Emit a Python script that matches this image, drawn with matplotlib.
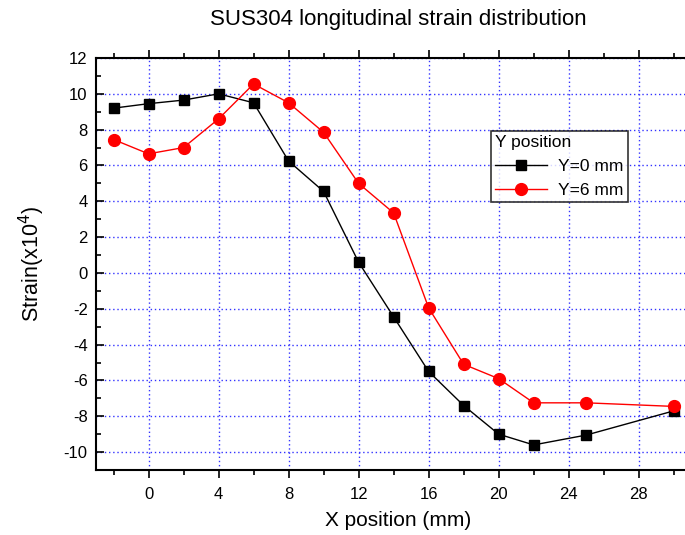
import matplotlib
matplotlib.use("Agg")
import matplotlib.pyplot as plt
from matplotlib.ticker import MultipleLocator

x_pos = [-2, 0, 2, 4, 6, 8, 10, 12, 14, 16, 18, 20, 22, 25, 30]
strain_y0 = [9.2, 9.45, 9.65, 10.0, 9.5, 6.25, 4.55, 0.6, -2.45, -5.5, -7.4, -9.0, -9.6, -9.05, -7.7]
strain_y6 = [7.45, 6.65, 7.0, 8.6, 10.55, 9.5, 7.85, 5.0, 3.35, -1.95, -5.1, -5.9, -7.25, -7.25, -7.45]

plt.rcParams['font.family'] = ['Liberation Sans', 'DejaVu Sans']
plt.rcParams['axes.unicode_minus'] = False

fig = plt.figure(figsize=(6.85, 5.35), dpi=100)
ax = fig.add_axes([96/685, 65/535, (700-96)/685, (470-58)/535])

ax.plot(x_pos, strain_y0, color='black', lw=1, marker='s', ms=7, mfc='black', mec='black', label='Y=0 mm')
ax.plot(x_pos, strain_y6, color='red', lw=1, marker='o', ms=8.5, mfc='red', mec='red', label='Y=6 mm')

ax.set_xlim(-3, 31.5)
ax.set_ylim(-11, 12)
ax.xaxis.set_major_locator(MultipleLocator(4))
ax.xaxis.set_minor_locator(MultipleLocator(2))
ax.yaxis.set_major_locator(MultipleLocator(2))
ax.yaxis.set_minor_locator(MultipleLocator(1))
ax.grid(True, which='major', color='#3333ff', linestyle=(0, (1, 2)), lw=1)
ax.tick_params(which='both', direction='out', labelsize=12, width=1.2)
ax.tick_params(which='major', length=6, pad=6)
ax.tick_params(which='minor', length=3.5)
ax.tick_params(top=True, which='both', direction='in')
ax.tick_params(axis='x', which='both', bottom=True, direction='out')
for s in ax.spines.values():
    s.set_linewidth(1.5)

ax.set_xlabel('X position (mm)', fontsize=15, labelpad=7)
ax.set_ylabel('Strain(x10$^4$)', fontsize=15.5, labelpad=12)
ax.set_title('SUS304 longitudinal strain distribution', fontsize=16, pad=24)

leg = ax.legend(title='Y position', loc='upper left', bbox_to_anchor=((491-96)/604, 1-(131-58)/412),
                fontsize=12.5, title_fontsize=12.5, frameon=True, fancybox=False, edgecolor='black',
                borderpad=0.25, handlelength=3, borderaxespad=0, handletextpad=0.6)
leg._legend_box.align = 'left'
leg.get_frame().set_linewidth(1.2)

fig.savefig('out.png', dpi=100)
